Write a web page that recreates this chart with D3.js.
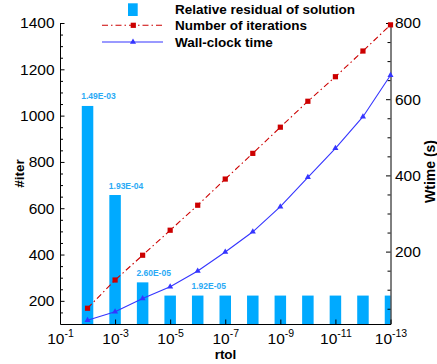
<!DOCTYPE html>
<html>
<head>
<meta charset="utf-8">
<script src="https://cdn.jsdelivr.net/npm/d3@7"></script>
<style>
  html, body { margin: 0; padding: 0; background: #fff; }
  svg { display: block; font-family: "Liberation Sans", Arial, Helvetica, sans-serif; }
  .axis path, .axis line { stroke: #000; stroke-width: 1; }
  .axis text { font-size: 15.5px; fill: #000; }
</style>
</head>
<body>
<svg id="chart" width="437" height="364"></svg>
<script>
// Tolerances (rtol) tested
const rtol = [1e-2, 1e-3, 1e-4, 1e-5, 1e-6, 1e-7, 1e-8, 1e-9, 1e-10, 1e-11, 1e-12, 1e-13];
// Relative residual of the computed solution
const residual = [1.49e-3, 1.93e-4, 2.60e-5, 1.92e-5, 1.92e-5, 1.92e-5, 1.92e-5, 1.92e-5, 1.92e-5, 1.92e-5, 1.92e-5, 1.92e-5];
// Which residual bars carry a value label
const labelled = [1e-2, 1e-3, 1e-4, 1e-6];
// Number of iterations
const iterations = [168, 290, 397, 505, 613, 726, 837, 950, 1062, 1168, 1279, 1392];
// Wall-clock time (s)
const wtime = [20, 42, 77, 108, 149, 199, 252, 318, 395, 471, 554, 663];
// Axis ticks
const xTicks = [1e-1, 1e-3, 1e-5, 1e-7, 1e-9, 1e-11, 1e-13];
const leftTicks = [200, 400, 600, 800, 1000, 1200, 1400];
const rightTicks = [200, 400, 600, 800];

const svg = d3.select("#chart");
const L = 60, R = 390.5, T = 23, B = 324;

const x = d3.scaleLog().domain([1e-1, 1e-13]).range([L, R]);
const yIter = d3.scaleLinear().domain([100, 1400]).range([B, T]);
const yTime = d3.scaleLinear().domain([10, 800]).range([B, T]);
const yRes = d3.scaleLog().domain([1e-5, 1e-2]).range([B, T]);

const barW = 11.5;
const barColor = "#00aaff";
const iterColor = "#cc0000";
const timeColor = "#3535ff";

svg.append("defs").append("clipPath").attr("id", "plotclip")
  .append("rect").attr("x", L).attr("y", 0).attr("width", R - L).attr("height", B);

// residual bars
svg.append("g").attr("clip-path", "url(#plotclip)")
  .selectAll("rect").data(rtol).join("rect")
  .attr("x", d => x(d) - barW / 2)
  .attr("width", barW)
  .attr("y", (d, i) => yRes(residual[i]))
  .attr("height", (d, i) => B - yRes(residual[i]))
  .attr("fill", barColor);

function sci(v) {
  const [m, e] = d3.format(".2e")(v).split("e");
  const n = +e;
  return m + "E" + (n < 0 ? "-" : "+") + String(Math.abs(n)).padStart(2, "0");
}

svg.append("g").selectAll("text")
  .data(rtol.map((d, i) => ({ d, v: residual[i] })).filter(o => labelled.includes(o.d)))
  .join("text")
  .attr("x", o => x(o.d) - barW / 2 - 0.5)
  .attr("y", o => yRes(o.v) - 6.5)
  .attr("font-size", "8.5px")
  .attr("font-weight", "bold")
  .attr("fill", "#2aaaf5")
  .text(o => sci(o.v));

// axes
const fmt = d3.format("d");
svg.append("g").attr("class", "axis").attr("transform", `translate(${L},0)`)
  .call(d3.axisLeft(yIter).tickValues(leftTicks).tickFormat(fmt)
    .tickSizeInner(-4.5).tickSizeOuter(0).tickPadding(5.5));
svg.append("g").attr("class", "axis").attr("transform", `translate(${L},0)`)
  .call(d3.axisLeft(yIter).tickValues(d3.range(150, 1400, 50).filter(v => v % 200 !== 0))
    .tickSizeInner(-3).tickSizeOuter(0).tickFormat(""))
  .select(".domain").remove();

svg.append("g").attr("class", "axis").attr("transform", `translate(${R},0)`)
  .call(d3.axisRight(yTime).tickValues(rightTicks).tickFormat(fmt)
    .tickSizeInner(-4.5).tickSizeOuter(0).tickPadding(4.5));
svg.append("g").attr("class", "axis").attr("transform", `translate(${R},0)`)
  .call(d3.axisRight(yTime).tickValues(d3.range(50, 800, 50).filter(v => v % 200 !== 0))
    .tickSizeInner(-3).tickSizeOuter(0).tickFormat(""))
  .select(".domain").remove();

const gX = svg.append("g").attr("class", "axis").attr("transform", `translate(0,${B})`)
  .call(d3.axisBottom(x).tickValues(xTicks).tickSizeInner(-4.5).tickSizeOuter(0));
gX.selectAll(".tick text").each(function (d) {
  const t = d3.select(this);
  const e = Math.round(Math.log10(d));
  t.text("").attr("y", 19.5).attr("dy", null);
  t.append("tspan").text("10");
  t.append("tspan").attr("font-size", "10.5px").attr("dy", -6.5).text(String(e));
});

// series lines
const iterLine = d3.line().x((d, i) => x(rtol[i])).y(d => yIter(d));
svg.append("path").datum(iterations).attr("d", iterLine)
  .attr("fill", "none").attr("stroke", iterColor).attr("stroke-width", 1.1)
  .attr("stroke-dasharray", "6,3,1.5,3");
svg.append("g").selectAll("rect").data(iterations).join("rect")
  .attr("x", (d, i) => x(rtol[i]) - 2.6).attr("y", d => yIter(d) - 2.6)
  .attr("width", 5.2).attr("height", 5.2).attr("fill", iterColor);

const timeLine = d3.line().x((d, i) => x(rtol[i])).y(d => yTime(d));
svg.append("path").datum(wtime).attr("d", timeLine)
  .attr("fill", "none").attr("stroke", timeColor).attr("stroke-width", 1.1);
const tri = d3.symbol().type(d3.symbolTriangle).size(16);
svg.append("g").selectAll("path").data(wtime).join("path")
  .attr("d", tri)
  .attr("transform", (d, i) => `translate(${x(rtol[i])},${yTime(d)})`)
  .attr("fill", timeColor);

// axis titles
svg.append("text").attr("transform", "translate(24,173.5) rotate(-90)")
  .attr("text-anchor", "middle").attr("font-weight", "bold").attr("font-size", "13.5px").text("#iter");
svg.append("text").attr("x", 225.5).attr("y", 359)
  .attr("text-anchor", "middle").attr("font-weight", "bold").attr("font-size", "13.5px").text("rtol");
svg.append("text").attr("transform", "translate(435,171.5) rotate(-90)")
  .attr("text-anchor", "middle").attr("font-weight", "bold").attr("font-size", "14px").text("Wtime (s)");

// legend
const lg = svg.append("g");
lg.append("rect").attr("x", 128).attr("y", 3.3).attr("width", 9.7).attr("height", 12.7).attr("fill", barColor);
lg.append("line").attr("x1", 102).attr("x2", 162).attr("y1", 25.3).attr("y2", 25.3)
  .attr("stroke", iterColor).attr("stroke-width", 1.1).attr("stroke-dasharray", "6,3,1.5,3");
lg.append("rect").attr("x", 133.3 - 2.6).attr("y", 25.3 - 2.6).attr("width", 5.2).attr("height", 5.2).attr("fill", iterColor);
lg.append("line").attr("x1", 102).attr("x2", 163).attr("y1", 42).attr("y2", 42)
  .attr("stroke", timeColor).attr("stroke-width", 1.1);
lg.append("path").attr("d", tri).attr("transform", "translate(133,42)").attr("fill", timeColor);
const legendText = ["Relative residual of solution", "Number of iterations", "Wall-clock time"];
const legendY = [14, 30, 47];
lg.selectAll("text").data(legendText).join("text")
  .attr("x", 175).attr("y", (d, i) => legendY[i])
  .attr("font-weight", "bold").attr("font-size", "13.5px").text(d => d);
</script>
</body>
</html>
